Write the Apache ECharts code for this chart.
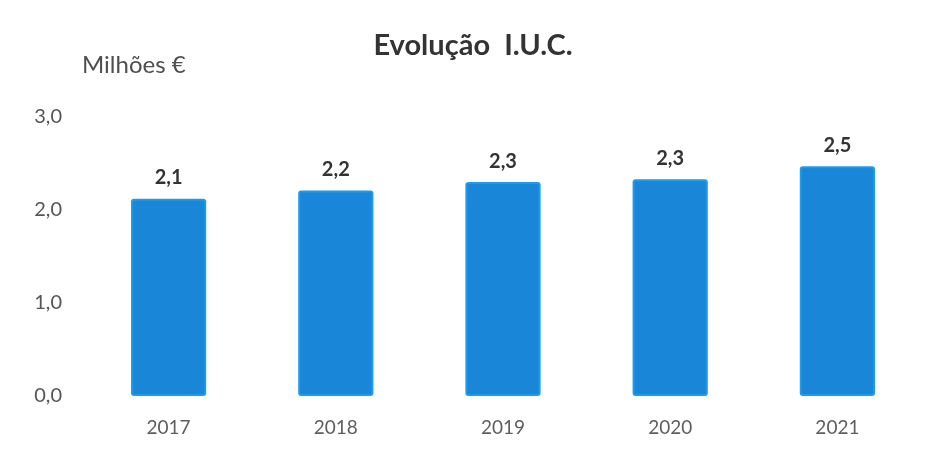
<!DOCTYPE html>
<html>
<head>
<meta charset="utf-8">
<style>
  html, body { margin: 0; padding: 0; background: #fff; }
  #chart { width: 941px; height: 468px; }
</style>
<script src="https://cdn.jsdelivr.net/npm/echarts@6/dist/echarts.min.js"></script>
</head>
<body>
<div id="chart"></div>
<script>
// Annual I.U.C. revenue, millions of euros
const years = ['2017', '2018', '2019', '2020', '2021'];
const iucValues = [2.12, 2.21, 2.30, 2.33, 2.47];
const yTicks = [0, 1, 2, 3];

const fmt = v => v.toFixed(1).replace('.', ',');
const FONT = 'Lato, "Open Sans", sans-serif';

const chart = echarts.init(document.getElementById('chart'));
chart.setOption({
  backgroundColor: '#ffffff',
  animation: false,
  title: {
    text: 'Evolução  I.U.C.',
    left: 468,
    textAlign: 'center',
    top: 26,
    textStyle: { fontFamily: FONT, fontSize: 29, fontWeight: 'bold', color: '#333333' }
  },
  graphic: [{
    type: 'text',
    left: 82,
    top: 53,
    style: { text: 'Milhões €', font: '24px ' + FONT, fill: '#4f4f4f' }
  }],
  grid: { left: 85, right: 20, top: 117, bottom: 72 },
  xAxis: {
    type: 'category',
    data: years,
    axisLine: { show: false },
    axisTick: { show: false },
    axisLabel: { color: '#5e5e5e', fontFamily: FONT, fontSize: 19, margin: 22 }
  },
  yAxis: {
    type: 'value',
    min: yTicks[0],
    max: yTicks[yTicks.length - 1],
    interval: 1,
    splitLine: { show: false },
    axisLine: { show: false },
    axisTick: { show: false },
    axisLabel: { color: '#555555', fontFamily: FONT, fontSize: 20, margin: 23, formatter: v => fmt(v) }
  },
  series: [{
    type: 'bar',
    data: iucValues,
    barWidth: '45%',
    itemStyle: { color: '#1986d8', borderColor: '#1c9cee', borderWidth: 2, borderRadius: 2 },
    label: {
      show: true,
      position: 'top',
      distance: 11,
      formatter: p => fmt(p.value),
      color: '#333333',
      fontFamily: FONT,
      fontSize: 20,
      fontWeight: 'bold'
    }
  }]
});
</script>
</body>
</html>
